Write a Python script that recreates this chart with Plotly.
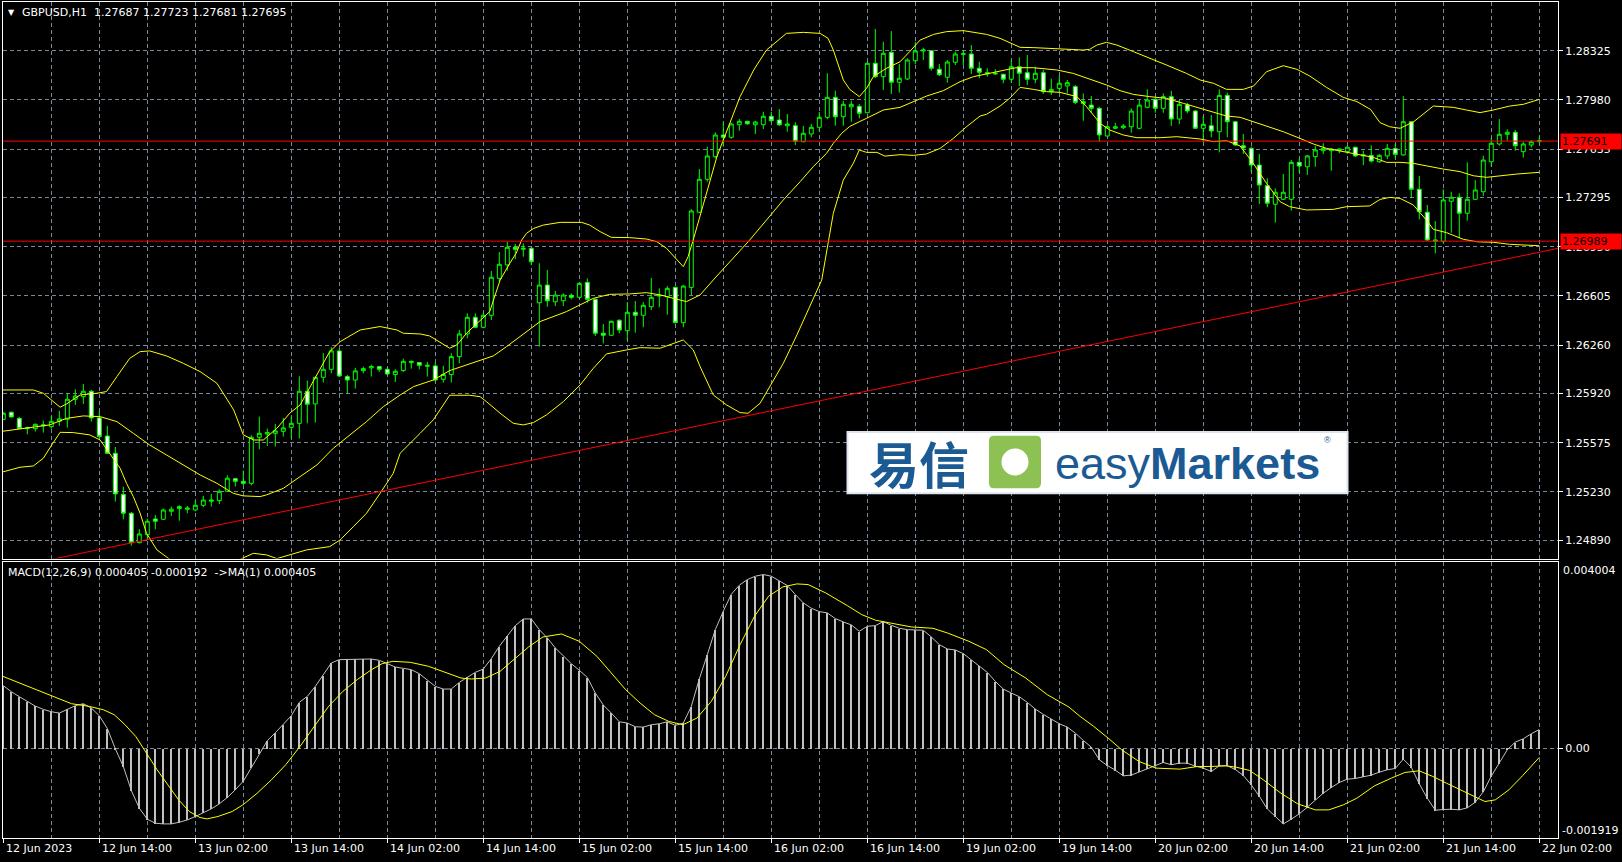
import plotly.graph_objects as go

# ------------------------------------------------------------------ data
bars = list(range(193))  # hourly bars, 12 Jun 02:00 .. 22 Jun 02:00

open_ = [
    1.25739, 1.25789, 1.25746, 1.25674, 1.25674, 1.25693, 1.25688, 1.25725, 1.25739, 1.25880,
    1.25898, 1.25936, 1.25749, 1.25622, 1.25501, 1.25213, 1.25080, 1.24874, 1.24930, 1.25040,
    1.25038, 1.25094, 1.25113, 1.25108, 1.25103, 1.25136, 1.25164, 1.25169, 1.25234, 1.25323,
    1.25304, 1.25290, 1.25613, 1.25636, 1.25641, 1.25655, 1.25683, 1.25711, 1.25936, 1.25847,
    1.26034, 1.26090, 1.26219, 1.26039, 1.26015, 1.26081, 1.26100, 1.26109, 1.26090, 1.26053,
    1.26081, 1.26137, 1.26137, 1.26111, 1.26114, 1.26020, 1.26053, 1.26179, 1.26338, 1.26455,
    1.26385, 1.26469, 1.26728, 1.26822, 1.26946, 1.26932, 1.26939, 1.26557, 1.26681, 1.26564,
    1.26571, 1.26609, 1.26595, 1.26700, 1.26581, 1.26343, 1.26329, 1.26434, 1.26361, 1.26490,
    1.26469, 1.26529, 1.26604, 1.26599, 1.26665, 1.26417, 1.26665, 1.27192, 1.27423, 1.27582,
    1.27734, 1.27718, 1.27806, 1.27830, 1.27806, 1.27806, 1.27865, 1.27839, 1.27799, 1.27799,
    1.27687, 1.27741, 1.27788, 1.27858, 1.27998, 1.27862, 1.27932, 1.27935, 1.27890, 1.28237,
    1.28143, 1.28314, 1.28104, 1.28127, 1.28255, 1.28323, 1.28325, 1.28195, 1.28139, 1.28244,
    1.28300, 1.28302, 1.28202, 1.28162, 1.28162, 1.28160, 1.28125, 1.28213, 1.28171, 1.28125,
    1.28171, 1.28038, 1.28061, 1.28078, 1.28073, 1.27967, 1.27944, 1.27921, 1.27727, 1.27781,
    1.27785, 1.27792, 1.27781, 1.27928, 1.27984, 1.27921, 1.28003, 1.27846, 1.27944, 1.27902,
    1.27781, 1.27799, 1.27757, 1.28012, 1.27827, 1.27659, 1.27640, 1.27523, 1.27378, 1.27248,
    1.27283, 1.27283, 1.27542, 1.27511, 1.27582, 1.27624, 1.27624, 1.27624, 1.27617, 1.27648,
    1.27587, 1.27591, 1.27546, 1.27587, 1.27640, 1.27594, 1.27827, 1.27353, 1.27192, 1.26988,
    1.26988, 1.27269, 1.27297, 1.27185, 1.27283, 1.27336, 1.27546, 1.27671, 1.27739, 1.27753,
    1.27617, 1.27664, 1.27687,
]
high = [
    1.25791, 1.25793, 1.25756, 1.25688, 1.25711, 1.25730, 1.25763, 1.25798, 1.25922, 1.25950,
    1.25987, 1.25945, 1.25798, 1.25693, 1.25545, 1.25267, 1.25089, 1.24968, 1.25042, 1.25068,
    1.25113, 1.25127, 1.25136, 1.25131, 1.25169, 1.25202, 1.25216, 1.25248, 1.25347, 1.25328,
    1.25379, 1.25627, 1.25758, 1.25674, 1.25707, 1.25749, 1.25758, 1.26041, 1.26011, 1.26039,
    1.26203, 1.26245, 1.26235, 1.26050, 1.26100, 1.26109, 1.26123, 1.26114, 1.26104, 1.26090,
    1.26165, 1.26151, 1.26142, 1.26142, 1.26137, 1.26114, 1.26203, 1.26366, 1.26483, 1.26483,
    1.26488, 1.26780, 1.26913, 1.26985, 1.26969, 1.26974, 1.26946, 1.26834, 1.26787, 1.26641,
    1.26623, 1.26623, 1.26697, 1.26728, 1.26588, 1.26408, 1.26431, 1.26441, 1.26562, 1.26569,
    1.26562, 1.26731, 1.26658, 1.26674, 1.26670, 1.26681, 1.27213, 1.27495, 1.27652, 1.27753,
    1.27823, 1.27820, 1.27846, 1.27834, 1.27834, 1.27897, 1.27897, 1.27916, 1.27881, 1.27823,
    1.27797, 1.27811, 1.27895, 1.28167, 1.28045, 1.27974, 1.27974, 1.27951, 1.28246, 1.28478,
    1.28388, 1.28463, 1.28232, 1.28272, 1.28388, 1.28346, 1.28330, 1.28232, 1.28260, 1.28318,
    1.28330, 1.28365, 1.28248, 1.28202, 1.28195, 1.28164, 1.28260, 1.28279, 1.28295, 1.28213,
    1.28190, 1.28129, 1.28155, 1.28120, 1.28085, 1.28026, 1.28007, 1.27932, 1.27804, 1.27820,
    1.27811, 1.27921, 1.27979, 1.28054, 1.27998, 1.28026, 1.28043, 1.27979, 1.27960, 1.27909,
    1.27867, 1.27874, 1.28054, 1.28031, 1.27834, 1.27741, 1.27652, 1.27601, 1.27430, 1.27360,
    1.27460, 1.27558, 1.27570, 1.27594, 1.27657, 1.27676, 1.27640, 1.27640, 1.27657, 1.27652,
    1.27624, 1.27662, 1.27601, 1.27671, 1.27671, 1.28007, 1.27832, 1.27446, 1.27243, 1.27130,
    1.27353, 1.27336, 1.27325, 1.27542, 1.27418, 1.27589, 1.27715, 1.27846, 1.27774, 1.27769,
    1.27687, 1.27699, 1.27723,
]
low = [
    1.25735, 1.25751, 1.25672, 1.25634, 1.25653, 1.25646, 1.25674, 1.25693, 1.25681, 1.25840,
    1.25847, 1.25723, 1.25613, 1.25496, 1.25162, 1.25038, 1.24853, 1.24869, 1.24893, 1.24968,
    1.25033, 1.25061, 1.25028, 1.25080, 1.25094, 1.25122, 1.25127, 1.25145, 1.25230, 1.25267,
    1.25276, 1.25276, 1.25529, 1.25552, 1.25548, 1.25618, 1.25604, 1.25604, 1.25711, 1.25716,
    1.25997, 1.26062, 1.26039, 1.25922, 1.25955, 1.26062, 1.26039, 1.26072, 1.26048, 1.26001,
    1.26072, 1.26095, 1.26090, 1.26039, 1.26004, 1.25997, 1.25997, 1.26132, 1.26308, 1.26378,
    1.26378, 1.26436, 1.26705, 1.26782, 1.26862, 1.26880, 1.26822, 1.26249, 1.26529, 1.26534,
    1.26534, 1.26581, 1.26585, 1.26557, 1.26324, 1.26272, 1.26324, 1.26343, 1.26291, 1.26347,
    1.26385, 1.26506, 1.26525, 1.26473, 1.26413, 1.26385, 1.26611, 1.27185, 1.27406, 1.27570,
    1.27652, 1.27708, 1.27764, 1.27806, 1.27741, 1.27776, 1.27823, 1.27797, 1.27757, 1.27664,
    1.27683, 1.27718, 1.27757, 1.27844, 1.27799, 1.27799, 1.27827, 1.27851, 1.27886, 1.28134,
    1.28050, 1.28022, 1.28031, 1.28120, 1.28230, 1.28260, 1.28185, 1.28148, 1.28101, 1.28225,
    1.28225, 1.28162, 1.28132, 1.28143, 1.28155, 1.28097, 1.28101, 1.28078, 1.28085, 1.28097,
    1.28022, 1.28015, 1.28031, 1.28026, 1.27951, 1.27834, 1.27890, 1.27687, 1.27722, 1.27774,
    1.27774, 1.27750, 1.27774, 1.27921, 1.27890, 1.27890, 1.27797, 1.27811, 1.27886, 1.27776,
    1.27683, 1.27718, 1.27612, 1.27718, 1.27657, 1.27601, 1.27472, 1.27250, 1.27227, 1.27119,
    1.27278, 1.27203, 1.27469, 1.27453, 1.27511, 1.27601, 1.27483, 1.27605, 1.27601, 1.27582,
    1.27523, 1.27542, 1.27539, 1.27565, 1.27570, 1.27589, 1.27290, 1.27142, 1.26992, 1.26904,
    1.26974, 1.27048, 1.27009, 1.27133, 1.27278, 1.27306, 1.27511, 1.27659, 1.27694, 1.27624,
    1.27575, 1.27645, 1.27681,
]
close = [
    1.25782, 1.25756, 1.25674, 1.25679, 1.25704, 1.25700, 1.25725, 1.25742, 1.25880, 1.25903,
    1.25936, 1.25749, 1.25618, 1.25501, 1.25216, 1.25080, 1.24874, 1.24935, 1.25024, 1.25024,
    1.25103, 1.25108, 1.25127, 1.25117, 1.25136, 1.25173, 1.25173, 1.25234, 1.25326, 1.25304,
    1.25290, 1.25613, 1.25641, 1.25646, 1.25658, 1.25679, 1.25711, 1.25936, 1.25845, 1.26034,
    1.26090, 1.26219, 1.26043, 1.26015, 1.26079, 1.26095, 1.26109, 1.26090, 1.26057, 1.26076,
    1.26146, 1.26146, 1.26118, 1.26118, 1.26015, 1.26053, 1.26179, 1.26338, 1.26455, 1.26385,
    1.26469, 1.26736, 1.26827, 1.26946, 1.26932, 1.26939, 1.26845, 1.26681, 1.26571, 1.26611,
    1.26611, 1.26595, 1.26693, 1.26581, 1.26343, 1.26329, 1.26427, 1.26366, 1.26490, 1.26469,
    1.26539, 1.26595, 1.26609, 1.26658, 1.26417, 1.26674, 1.27201, 1.27423, 1.27587, 1.27734,
    1.27718, 1.27811, 1.27830, 1.27813, 1.27825, 1.27865, 1.27834, 1.27806, 1.27811, 1.27690,
    1.27746, 1.27788, 1.27858, 1.27998, 1.27862, 1.27949, 1.27949, 1.27886, 1.28237, 1.28143,
    1.28307, 1.28104, 1.28132, 1.28260, 1.28323, 1.28330, 1.28202, 1.28157, 1.28246, 1.28302,
    1.28304, 1.28202, 1.28174, 1.28171, 1.28167, 1.28125, 1.28213, 1.28167, 1.28125, 1.28167,
    1.28038, 1.28054, 1.28097, 1.28101, 1.27963, 1.27956, 1.27921, 1.27734, 1.27792, 1.27792,
    1.27797, 1.27902, 1.27944, 1.27979, 1.27921, 1.28003, 1.27846, 1.27949, 1.27902, 1.27781,
    1.27809, 1.27762, 1.28012, 1.27827, 1.27664, 1.27643, 1.27523, 1.27383, 1.27255, 1.27332,
    1.27332, 1.27542, 1.27516, 1.27587, 1.27629, 1.27640, 1.27636, 1.27636, 1.27648, 1.27587,
    1.27594, 1.27551, 1.27591, 1.27640, 1.27598, 1.27827, 1.27353, 1.27196, 1.26997, 1.26997,
    1.27278, 1.27297, 1.27185, 1.27283, 1.27348, 1.27558, 1.27676, 1.27739, 1.27753, 1.27659,
    1.27671, 1.27687, 1.27695,
]

# Bollinger Bands (20,2): [bar, price]
bb_upper = [
    [-0.4, 1.25945], [3.75, 1.25945], [5, 1.25922], [7.1, 1.25824], [7.9, 1.25847], [9.6, 1.25910],
    [11.7, 1.25922], [12.9, 1.25934], [14.2, 1.26039], [15.8, 1.26167], [17.1, 1.26214], [18.3, 1.26219],
    [20.4, 1.26184], [22.5, 1.26132], [24.6, 1.26074], [26.7, 1.25992], [28.8, 1.25805], [30, 1.25630],
    [31.3, 1.25594], [32.5, 1.25594], [34.2, 1.25676], [35.8, 1.25782], [37.1, 1.25840], [38.8, 1.26015],
    [40.8, 1.26214], [42.1, 1.26284], [44.6, 1.26366], [47.1, 1.26390], [49.2, 1.26366], [50, 1.26343],
    [52.1, 1.26338], [53.3, 1.26324], [55.8, 1.26238], [56.7, 1.26261], [57.9, 1.26343], [60.8, 1.26495],
    [62.1, 1.26716], [63.3, 1.26833], [64.1, 1.26904], [64.8, 1.26997], [65.4, 1.27044], [66.3, 1.27079],
    [67.5, 1.27102], [69.6, 1.27121], [72.3, 1.27121], [73.3, 1.27102], [74.6, 1.27056], [76.0, 1.27016],
    [78.3, 1.27014], [80.4, 1.27004], [81.7, 1.26985], [82.9, 1.26939], [85.0, 1.26810], [85.6, 1.26880],
    [86.3, 1.27009], [89.2, 1.27582], [91.3, 1.27886], [92.1, 1.28003], [93.8, 1.28190], [95.4, 1.28330],
    [97.9, 1.28447], [100.0, 1.28454], [102.1, 1.28447], [103.1, 1.28412], [103.75, 1.28330], [105.0, 1.28120],
    [105.8, 1.28054], [107.0, 1.28003], [107.9, 1.28061], [108.75, 1.28143], [110.4, 1.28202], [112.1, 1.28248],
    [113.3, 1.28319], [114.6, 1.28400], [116.3, 1.28440], [117.9, 1.28459], [120.0, 1.28466], [121.3, 1.28452],
    [122.9, 1.28440], [124.6, 1.28412], [125.8, 1.28384], [127.1, 1.28349], [128.75, 1.28347], [130.8, 1.28342],
    [132.9, 1.28337], [135.0, 1.28330], [135.8, 1.28335], [136.7, 1.28365], [137.9, 1.28384], [139.2, 1.28365],
    [141.3, 1.28318], [143.75, 1.28265], [145.4, 1.28225], [147.9, 1.28166], [149.6, 1.28120], [151.3, 1.28096],
    [152.9, 1.28054], [155.0, 1.28054], [156.3, 1.28078], [157.9, 1.28178], [160.0, 1.28220], [161.7, 1.28195],
    [163.3, 1.28148], [165.4, 1.28068], [167.5, 1.27998], [169.2, 1.27968], [170.9, 1.27914], [172.1, 1.27820],
    [173.3, 1.27792], [174.6, 1.27781], [176.3, 1.27827], [178.75, 1.27937], [181.25, 1.27928], [182.9, 1.27909],
    [184.6, 1.27891], [186.25, 1.27909], [188.3, 1.27937], [190.0, 1.27949], [192.0, 1.27984],
]
bb_middle = [
    [-0.4, 1.25653], [2.9, 1.25676], [5.8, 1.25700], [7.9, 1.25746], [10.0, 1.25763], [12.1, 1.25758],
    [14.2, 1.25723], [16.25, 1.25641], [18.3, 1.25559], [20.4, 1.25489], [22.5, 1.25419], [24.6, 1.25349],
    [26.7, 1.25290], [28.75, 1.25220], [30.0, 1.25202], [32.1, 1.25197], [32.9, 1.25209], [35.0, 1.25255],
    [37.1, 1.25337], [39.2, 1.25419], [41.25, 1.25536], [43.3, 1.25630], [45.4, 1.25723], [47.5, 1.25828],
    [49.6, 1.25910], [51.3, 1.25969], [53.75, 1.26015], [55.8, 1.26081], [57.9, 1.26121], [61.25, 1.26184],
    [62.9, 1.26249], [65.4, 1.26354], [67.1, 1.26425], [70.4, 1.26495], [72.1, 1.26542], [73.75, 1.26588],
    [75.8, 1.26616], [78.3, 1.26619], [80.4, 1.26628], [82.1, 1.26612], [83.75, 1.26588], [85.4, 1.26565],
    [87.1, 1.26612], [88.75, 1.26717], [93.3, 1.26997], [97.5, 1.27278], [99.6, 1.27406], [101.25, 1.27512],
    [102.9, 1.27605], [103.75, 1.27675], [104.8, 1.27746], [105.8, 1.27794], [107.9, 1.27851], [110.0, 1.27909],
    [112.1, 1.27928], [113.75, 1.27968], [115.4, 1.28007], [117.5, 1.28045], [119.6, 1.28108], [121.25, 1.28143],
    [122.9, 1.28162], [124.6, 1.28185], [126.6, 1.28206], [128.75, 1.28206], [131.7, 1.28190], [133.75, 1.28166],
    [136.25, 1.28120], [137.9, 1.28085], [139.6, 1.28045], [141.25, 1.28019], [143.3, 1.28003], [145.4, 1.27991],
    [147.5, 1.27956], [149.6, 1.27921], [151.3, 1.27898], [152.9, 1.27867], [154.6, 1.27858], [156.25, 1.27827],
    [157.9, 1.27792], [160.0, 1.27757], [162.1, 1.27710], [163.75, 1.27671], [165.4, 1.27640], [167.5, 1.27617],
    [169.2, 1.27600], [171.25, 1.27577], [172.9, 1.27542], [174.6, 1.27542], [176.25, 1.27535], [178.3, 1.27512],
    [180.0, 1.27495], [182.1, 1.27477], [183.75, 1.27448], [185.4, 1.27437], [187.1, 1.27448], [189.2, 1.27460],
    [192.0, 1.27472],
]
bb_lower = [
    [-0.4, 1.25365], [2.1, 1.25403], [3.75, 1.25412], [5.0, 1.25466], [6.05, 1.25559], [7.1, 1.25648],
    [8.75, 1.25646], [10.8, 1.25630], [12.1, 1.25594], [13.3, 1.25501], [14.6, 1.25396], [15.4, 1.25290],
    [16.25, 1.25197], [17.1, 1.25080], [17.9, 1.24940], [19.2, 1.24823], [20.8, 1.24757], [23.0, 1.24700],
    [26.0, 1.24690], [28.5, 1.24720], [29.6, 1.24757], [31.25, 1.24799], [32.9, 1.24788], [34.2, 1.24762],
    [35.8, 1.24788], [37.9, 1.24823], [40.8, 1.24846], [42.1, 1.24893], [43.75, 1.24986], [45.4, 1.25080],
    [47.1, 1.25220], [48.75, 1.25361], [49.6, 1.25501], [50.8, 1.25571], [52.1, 1.25641], [53.75, 1.25735],
    [55.8, 1.25908], [58.3, 1.25908], [59.6, 1.25898], [60.4, 1.25863], [62.1, 1.25782], [63.75, 1.25711],
    [65.0, 1.25700], [66.25, 1.25716], [67.9, 1.25770], [70.0, 1.25863], [72.1, 1.25980], [73.75, 1.26097],
    [75.4, 1.26198], [77.9, 1.26226], [79.6, 1.26242], [82.1, 1.26238], [83.75, 1.26268], [85.0, 1.26296],
    [86.25, 1.26226], [87.1, 1.26109], [88.75, 1.25910], [90.4, 1.25840], [92.1, 1.25786], [93.1, 1.25782],
    [94.6, 1.25852], [95.8, 1.25969], [97.5, 1.26132], [99.2, 1.26331], [100.8, 1.26530], [102.1, 1.26682],
    [102.3, 1.26716], [103.75, 1.27184], [105.0, 1.27418], [106.25, 1.27535], [107.0, 1.27629], [107.9, 1.27612],
    [109.2, 1.27612], [110.2, 1.27586], [112.1, 1.27596], [113.75, 1.27591], [115.4, 1.27601], [117.1, 1.27640],
    [118.75, 1.27710], [120.4, 1.27792], [122.1, 1.27867], [122.9, 1.27879], [124.6, 1.27937], [125.8, 1.27991],
    [127.1, 1.28068], [128.75, 1.28054], [130.4, 1.28038], [132.1, 1.28033], [132.9, 1.28021], [134.2, 1.28003],
    [135.4, 1.27933], [136.25, 1.27874], [137.1, 1.27816], [138.3, 1.27769], [140.0, 1.27734], [141.7, 1.27715],
    [144.6, 1.27715], [146.7, 1.27722], [149.6, 1.27706], [151.25, 1.27687], [152.9, 1.27694], [154.6, 1.27657],
    [156.25, 1.27535], [157.9, 1.27395], [159.6, 1.27266], [160.8, 1.27231], [162.9, 1.27208], [166.25, 1.27212],
    [167.9, 1.27231], [170.8, 1.27236], [172.1, 1.27282], [173.3, 1.27296], [174.6, 1.27289], [176.25, 1.27243],
    [177.9, 1.27137], [178.75, 1.27072], [180.4, 1.27049], [182.5, 1.27002], [184.2, 1.26985], [186.25, 1.26981],
    [188.3, 1.26967], [192.0, 1.26957],
]

# MACD(12,26,9) main values per bar (histogram, also the MA(1) line)
macd_main = [
    0.001345, 0.001216, 0.001109, 0.001009, 0.000908, 0.000837, 0.000787, 0.000758, 0.000844, 0.000916,
    0.000959, 0.000866, 0.000701, 0.000429, -0.000007, -0.000386, -0.000901, -0.001280, -0.001516, -0.001602,
    -0.001617, -0.001617, -0.001581, -0.001531, -0.001459, -0.001373, -0.001295, -0.001187, -0.001051, -0.000887,
    -0.000701, -0.000415, -0.000114, 0.000165, 0.000336, 0.000508, 0.000701, 0.000987, 0.001116, 0.001330,
    0.001567, 0.001831, 0.001903, 0.001910, 0.001917, 0.001917, 0.001917, 0.001888, 0.001817, 0.001745,
    0.001717, 0.001688, 0.001602, 0.001459, 0.001330, 0.001273, 0.001273, 0.001416, 0.001531, 0.001631,
    0.001702, 0.001924, 0.002189, 0.002418, 0.002632, 0.002775, 0.002775, 0.002546, 0.002368, 0.002153,
    0.001974, 0.001817, 0.001674, 0.001524, 0.001187, 0.000930, 0.000758, 0.000572, 0.000544, 0.000465,
    0.000458, 0.000508, 0.000529, 0.000572, 0.000494, 0.000544, 0.000901, 0.001488, 0.002010, 0.002546,
    0.002940, 0.003305, 0.003498, 0.003619, 0.003691, 0.003727, 0.003691, 0.003598, 0.003491, 0.003298,
    0.003119, 0.003004, 0.002933, 0.002904, 0.002783, 0.002711, 0.002647, 0.002511, 0.002618, 0.002632,
    0.002718, 0.002639, 0.002575, 0.002546, 0.002546, 0.002532, 0.002389, 0.002225, 0.002132, 0.002110,
    0.002031, 0.001903, 0.001774, 0.001631, 0.001438, 0.001273, 0.001187, 0.001109, 0.000987, 0.000844,
    0.000730, 0.000637, 0.000529, 0.000458, 0.000329, 0.000172, 0.000029, -0.000243, -0.000365, -0.000465,
    -0.000587, -0.000572, -0.000501, -0.000436, -0.000372, -0.000300, -0.000350, -0.000315, -0.000315, -0.000379,
    -0.000422, -0.000494, -0.000372, -0.000372, -0.000451, -0.000579, -0.000780, -0.001023, -0.001295, -0.001459,
    -0.001617, -0.001516, -0.001402, -0.001259, -0.001102, -0.000959, -0.000837, -0.000730, -0.000658, -0.000644,
    -0.000608, -0.000572, -0.000508, -0.000458, -0.000429, -0.000229, -0.000401, -0.000758, -0.001066, -0.001323,
    -0.001309, -0.001302, -0.001316, -0.001273, -0.001152, -0.000930, -0.000594, -0.000315, -0.000029, 0.000136,
    0.000207, 0.000315, 0.000405,
]
# MACD signal line: [bar, value]
macd_signal = [
    [-0.06, 0.001545], [1.82, 0.001416], [4.05, 0.001259], [6.28, 0.001102], [8.52, 0.000959], [10.75, 0.000901],
    [12.5, 0.000830], [13.87, 0.000722], [15.21, 0.000508], [16.55, 0.000258], [17.89, -0.000100], [19.23, -0.000458],
    [20.57, -0.000780], [21.91, -0.001102], [23.25, -0.001352], [24.59, -0.001481], [25.48, -0.001509], [26.82, -0.001459],
    [28.6, -0.001352], [29.95, -0.001209], [31.73, -0.000959], [33.52, -0.000672], [35.3, -0.000350], [37.09, 0.000043],
    [38.87, 0.000472], [40.66, 0.000901], [42.45, 0.001223], [44.23, 0.001474], [46.02, 0.001688], [47.35, 0.001817],
    [48.7, 0.001867], [50.9, 0.001845], [53.16, 0.001760], [55.39, 0.001617], [57.2, 0.001509], [58.5, 0.001488],
    [60.3, 0.001509], [62.09, 0.001652], [63.87, 0.001903], [65.66, 0.002175], [67.45, 0.002389], [69.77, 0.002453],
    [72.0, 0.002296], [74.2, 0.001974], [76.0, 0.001617], [77.8, 0.001259], [79.6, 0.000973], [81.4, 0.000722],
    [83.2, 0.000579], [84.95, 0.000508], [86.7, 0.000651], [88.5, 0.001009], [90.3, 0.001545], [92.1, 0.002225],
    [93.9, 0.002833], [95.66, 0.003262], [97.45, 0.003462], [99.2, 0.003526], [100.6, 0.003512], [102.8, 0.003333],
    [105.5, 0.003061], [107.3, 0.002868], [109.05, 0.002747], [110.8, 0.002690], [113.5, 0.002604], [116.2, 0.002575],
    [118.0, 0.002475], [120.7, 0.002296], [122.9, 0.002117], [125.1, 0.001795], [127.8, 0.001509], [130.5, 0.001152],
    [133.2, 0.000887], [134.6, 0.000687], [136.3, 0.000472], [138.1, 0.000222], [139.8, -0.000029], [141.96, -0.000279],
    [144.1, -0.000422], [147.1, -0.000443], [149.3, -0.000386], [151.0, -0.000386], [152.8, -0.000372], [154.1, -0.000401],
    [155.8, -0.000472], [157.5, -0.000672], [159.7, -0.000959], [161.8, -0.001187], [164.0, -0.001316], [165.7, -0.001316],
    [167.5, -0.001209], [169.2, -0.001066], [171.4, -0.000801], [173.5, -0.000637], [175.2, -0.000515], [176.97, -0.000479],
    [178.7, -0.000601], [180.4, -0.000744], [182.1, -0.000887], [183.9, -0.001044], [185.2, -0.001137], [186.5, -0.001102],
    [188.2, -0.000887], [189.9, -0.000587], [192.0, -0.000192],
]

level_prices = [1.27691, 1.26989]           # horizontal lines
trend_bars = [-1, 195]                      # trend line anchors
trend_prices = [1.24675, 1.26946]

time_tick_bars = [0, 12, 24, 36, 48, 60, 72, 84, 96, 108, 120, 132, 144, 156, 168, 180, 192]
time_tick_text = ["12 Jun 2023", "12 Jun 14:00", "13 Jun 02:00", "13 Jun 14:00", "14 Jun 02:00",
                  "14 Jun 14:00", "15 Jun 02:00", "15 Jun 14:00", "16 Jun 02:00", "16 Jun 14:00",
                  "19 Jun 02:00", "19 Jun 14:00", "20 Jun 02:00", "20 Jun 14:00", "21 Jun 02:00",
                  "21 Jun 14:00", "22 Jun 02:00"]
price_ticks = [1.28325, 1.27980, 1.27635, 1.27295, 1.26950, 1.26605, 1.26260, 1.25920, 1.25575, 1.25230, 1.24890]
price_tick_text = ["%.5f" % v for v in price_ticks]
price_range = [1.24762, 1.28667]
macd_range = [-0.001919, 0.004004]

title_text = "GBPUSD,H1\u00a0\u00a01.27687 1.27723 1.27681 1.27695"
macd_text = "MACD(12,26,9) 0.000405 -0.000192\u00a0\u00a0->MA(1) 0.000405"

# ------------------------------------------------------------------ layout helpers
W, H = 1622, 862
ML, MR, MT, MB = 3, 64, 2, 24
PW, PH = W - ML - MR, H - MT - MB


def px(x):
    return (x - ML) / PW


def py(y):
    return (H - MB - y) / PH


FONT = "DejaVu Sans"
GRID = "#778899"
DASH = "4px,3px"
GREEN = "#00ff00"
YELLOW = "#ffff00"
SILVER = "#c0c0c0"

fig = go.Figure()

# price panel
fig.add_trace(go.Candlestick(
    x=bars, open=open_, high=high, low=low, close=close,
    increasing=dict(line=dict(color=GREEN, width=1), fillcolor="#000000"),
    decreasing=dict(line=dict(color=GREEN, width=1), fillcolor="#ffffff"),
    whiskerwidth=0, xaxis="x", yaxis="y", hoverinfo="skip",
))
for band in (bb_upper, bb_middle, bb_lower):
    fig.add_trace(go.Scatter(x=[p[0] for p in band], y=[p[1] for p in band], mode="lines",
                             line=dict(color=YELLOW, width=1), xaxis="x", yaxis="y", hoverinfo="skip"))
fig.add_trace(go.Scatter(x=trend_bars, y=trend_prices, mode="lines", line=dict(color="#ff0000", width=1),
                         xaxis="x", yaxis="y", hoverinfo="skip"))
for lv in level_prices:
    fig.add_trace(go.Scatter(x=[-1, 196], y=[lv, lv], mode="lines", line=dict(color="#ff0000", width=1),
                             xaxis="x", yaxis="y", hoverinfo="skip"))

# MACD panel
fig.add_trace(go.Bar(x=bars, y=macd_main, width=0.13, marker=dict(color=SILVER, line=dict(width=0)),
                     xaxis="x2", yaxis="y2", hoverinfo="skip"))
fig.add_trace(go.Scatter(x=bars, y=macd_main, mode="lines", line=dict(color=SILVER, width=1),
                         xaxis="x2", yaxis="y2", hoverinfo="skip"))
fig.add_trace(go.Scatter(x=[p[0] for p in macd_signal], y=[p[1] for p in macd_signal], mode="lines",
                         line=dict(color=YELLOW, width=1), xaxis="x2", yaxis="y2", hoverinfo="skip"))

xcommon = dict(range=[-0.04, 194.34], showticklabels=False, tickmode="array", tickvals=time_tick_bars,
               showgrid=True, gridcolor=GRID, griddash=DASH, gridwidth=1,
               minor=dict(tickmode="linear", tick0=0, dtick=6, showgrid=True, gridcolor=GRID,
                          griddash=DASH, gridwidth=1, ticks=""),
               zeroline=False, showline=True, mirror=True, linecolor="white", linewidth=1,
               fixedrange=True)

main_bottom, macd_top = 558.6, 561.6
fig.update_layout(
    width=W, height=H, margin=dict(l=ML, r=MR, t=MT, b=MB, pad=0),
    paper_bgcolor="#000000", plot_bgcolor="#000000", showlegend=False, hovermode=False,
    bargap=0,
    xaxis=dict(domain=[0, 1], anchor="y", ticks="", rangeslider=dict(visible=False), **xcommon),
    xaxis2=dict(domain=[0, 1], anchor="y2", ticks="outside", ticklen=4, tickcolor="white", **xcommon),
    yaxis=dict(domain=[py(main_bottom), 1], anchor="x", range=price_range, side="right",
               tickmode="array", tickvals=price_ticks, ticktext=price_tick_text,
               ticks="outside", ticklen=4, tickcolor="white",
               tickfont=dict(family=FONT, size=11, color="white"),
               showgrid=True, gridcolor=GRID, griddash=DASH, gridwidth=1, zeroline=False,
               showline=True, mirror=True, linecolor="white", linewidth=1, fixedrange=True),
    yaxis2=dict(domain=[0, py(macd_top)], anchor="x2", range=macd_range, side="right",
                tickmode="array", tickvals=[0], ticktext=["0.00"],
                ticks="outside", ticklen=4, tickcolor="white",
                tickfont=dict(family=FONT, size=11, color="white"),
                showgrid=True, gridcolor=GRID, griddash=DASH, gridwidth=1, zeroline=False,
                showline=True, mirror=True, linecolor="white", linewidth=1, fixedrange=True),
)

ann = []
# time labels (left aligned at their bar, MT4 style)
for b, t in zip(time_tick_bars, time_tick_text):
    ann.append(dict(x=b, xref="x2", xanchor="left", xshift=1, y=py(849), yref="paper", yanchor="middle",
                    text=t, showarrow=False, font=dict(family=FONT, size=11, color="white")))
# title and MACD legend
ann.append(dict(x=px(6), xref="paper", xanchor="left", y=py(12.5), yref="paper", yanchor="middle",
                text="\u25bc", showarrow=False, font=dict(family=FONT, size=8, color="white")))
ann.append(dict(x=px(20), xref="paper", xanchor="left", y=py(12.7), yref="paper", yanchor="middle",
                text=title_text, showarrow=False, font=dict(family=FONT, size=11, color="white")))
ann.append(dict(x=px(6), xref="paper", xanchor="left", y=py(572.7), yref="paper", yanchor="middle",
                text=macd_text, showarrow=False, font=dict(family=FONT, size=11, color="white")))
# MACD scale extremes
ann.append(dict(x=px(1561), xref="paper", xanchor="left", y=py(570.7), yref="paper", yanchor="middle",
                text="%.6f" % macd_range[1], showarrow=False, font=dict(family=FONT, size=11, color="white")))
ann.append(dict(x=px(1560), xref="paper", xanchor="left", y=py(830.5), yref="paper", yanchor="middle",
                text="%.6f" % macd_range[0], showarrow=False, font=dict(family=FONT, size=11, color="white")))
# price labels of the horizontal lines
for lv in level_prices:
    ann.append(dict(x=px(1560), xref="paper", xanchor="left", y=lv, yref="y", yanchor="middle",
                    text="%.5f" % lv, showarrow=False, bgcolor="#ff0000", width=58, height=13,
                    borderpad=1, align="left", font=dict(family=FONT, size=11, color="#000000")))

# easyMarkets logo
BLUE = "#1b5a92"
ann.append(dict(x=px(919), xref="paper", xanchor="center", y=py(462), yref="paper", yanchor="middle",
                text="易信", showarrow=False,
                font=dict(family="Noto Sans CJK SC", size=50, color=BLUE, weight="bold")))
ann.append(dict(x=px(1053), xref="paper", xanchor="left", y=py(463), yref="paper", yanchor="middle",
                text="easy<b>Markets</b>", showarrow=False,
                font=dict(family="Liberation Sans", size=45, color=BLUE)))
ann.append(dict(x=px(1327), xref="paper", xanchor="center", y=py(440), yref="paper", yanchor="middle",
                text="®", showarrow=False, font=dict(family="Liberation Sans", size=9, color=BLUE)))

shapes = []
shapes.append(dict(type="rect", xref="paper", yref="paper", x0=px(847.5), x1=px(1347.5), y0=py(493.3),
                   y1=py(432), fillcolor="#ffffff", line=dict(color="#dde6f0", width=2), layer="above"))
x0, x1, y0, y1 = px(989), px(1041), py(488.3), py(435.7)
rx, ry = 5 / PW, 5 / PH
path = (f"M {x0+rx},{y0} L {x1-rx},{y0} Q {x1},{y0} {x1},{y0+ry} L {x1},{y1-ry} "
        f"Q {x1},{y1} {x1-rx},{y1} L {x0+rx},{y1} Q {x0},{y1} {x0},{y1-ry} "
        f"L {x0},{y0+ry} Q {x0},{y0} {x0+rx},{y0} Z")
shapes.append(dict(type="path", xref="paper", yref="paper", path=path, fillcolor="#8dc153",
                   line=dict(width=0), layer="above"))
shapes.append(dict(type="circle", xref="paper", yref="paper", x0=px(1001.5), x1=px(1028.5),
                   y0=py(475.5), y1=py(448.5), fillcolor="#ffffff", line=dict(width=0), layer="above"))

fig.update_layout(annotations=ann, shapes=shapes)

fig.write_html("out.html", include_plotlyjs=True, config={"displayModeBar": False},
               post_script="document.body.style.margin='0';document.body.style.overflow='hidden';")
